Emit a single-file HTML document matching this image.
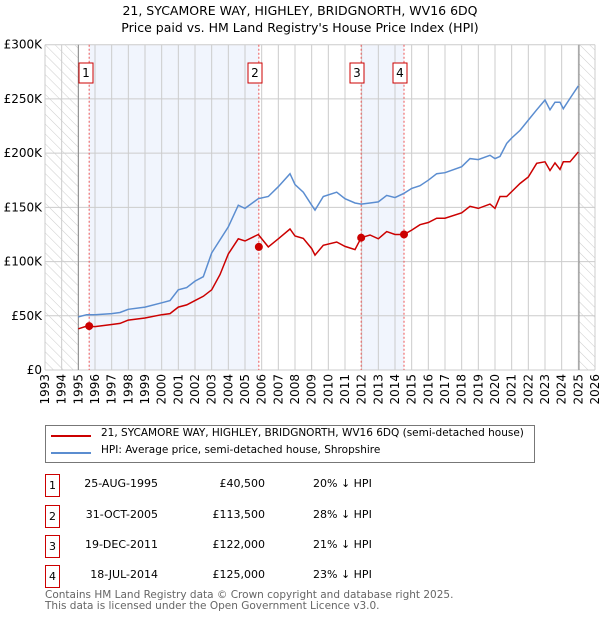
<!DOCTYPE html>
<html><head><meta charset="utf-8"><style>
body{margin:0;background:#fff;font-family:"DejaVu Sans","Liberation Sans",sans-serif;}
#wrap{position:relative;width:600px;height:620px;overflow:hidden;}
.t{position:absolute;font-size:11px;color:#000;white-space:nowrap;}
.nb{position:absolute;width:13px;height:21px;border:1px solid #c00;font-size:11px;text-align:center;line-height:21px;background:#fff;}
</style></head><body><div id="wrap">
<div class="t" style="left:0;width:600px;text-align:center;top:3px;font-size:12.5px">21, SYCAMORE WAY, HIGHLEY, BRIDGNORTH, WV16 6DQ</div>
<div class="t" style="left:0;width:600px;text-align:center;top:20px;font-size:12.5px">Price paid vs. HM Land Registry's House Price Index (HPI)</div>
<svg id="chart" width="600" height="420" style="position:absolute;left:0;top:0"></svg>
<div style="position:absolute;left:45px;top:425px;width:488px;height:36px;border:1px solid #777">
 <div style="position:absolute;left:5px;top:9px;width:40px;height:2px;background:#c00"></div>
 <div class="t" style="left:55px;top:1px;font-size:10.5px">21, SYCAMORE WAY, HIGHLEY, BRIDGNORTH, WV16 6DQ (semi-detached house)</div>
 <div style="position:absolute;left:5px;top:26px;width:40px;height:2px;background:#5b8dd0"></div>
 <div class="t" style="left:55px;top:18px;font-size:10.5px">HPI: Average price, semi-detached house, Shropshire</div>
</div>
<div id="rows"></div>
<div class="t" style="left:45px;top:590px;color:#666;font-size:10.5px;line-height:11px">Contains HM Land Registry data © Crown copyright and database right 2025.<br>This data is licensed under the Open Government Licence v3.0.</div>
</div>
<script>
const years=[1995,1995.5,1996,1997,1997.5,1998,1999,2000,2000.5,2001,2001.5,2002,2002.5,2003,2003.5,2004,2004.6,2005,2005.8,2006.4,2007,2007.7,2008,2008.5,2009,2009.2,2009.7,2010.5,2011,2011.6,2011.97,2012.5,2013,2013.5,2014,2014.54,2015,2015.5,2016,2016.5,2017,2018,2018.5,2019,2019.7,2020,2020.3,2020.7,2021,2021.5,2022,2022.5,2023,2023.3,2023.6,2023.9,2024.1,2024.5,2025];
const hpi=[49,51,51,52,53,56,58,62,64,74,76,82,86,108,120,132,152,149,158,160,169,181,171,164,152,147.5,160,164,158,154,153,154,155,161,159,163,167.5,170,175,181,182,187.5,195,194,198,195,197,209,214,221,230.5,240,249,240,247,247,241,250.5,262];
const paid=[38,40.5,40,42,43,46,48,51,52,58,60,64,68,74,88,107,121,119,125,113.5,121,130,123.6,121.4,112,106,115,118,114,111,122,124.5,121,127.6,125,125,129,134,136,140,140,145,151,149,153,149,160,160,164.5,172,178,190.6,192,184,191,185,192,192,201];
const saleYears=[1995.65,2005.83,2011.97,2014.54];
const salePrices=[40.5,113.5,122,125];
const saleLabels=["1","2","3","4"];
const saleDates=["25-AUG-1995","31-OCT-2005","19-DEC-2011","18-JUL-2014"];
const salePriceText=["£40,500","£113,500","£122,000","£125,000"];
const saleDiff=["20% ↓ HPI","28% ↓ HPI","21% ↓ HPI","23% ↓ HPI"];
const yTicks=[0,50,100,150,200,250,300];
const yTickLabels=["£0","£50K","£100K","£150K","£200K","£250K","£300K"];

const X0=45,X1=595,Y0=370,Y1=44.7;
const x=yr=>X0+(yr-1993)*(X1-X0)/33;
const y=v=>Y0-v*(Y0-Y1)/300;
const ns="http://www.w3.org/2000/svg";
const svg=document.getElementById('chart');
const FF='DejaVu Sans, Liberation Sans, sans-serif';
function mk(tag,attrs,name){const e=document.createElementNS(ns,tag);for(const k in attrs)e.setAttribute(k,attrs[k]);


svg.appendChild(e);return e;}
const defs=document.createElementNS(ns,'defs');
defs.innerHTML='<pattern id="hatch" width="7" height="7" patternUnits="userSpaceOnUse" patternTransform="rotate(-45)"><line x1="0" y1="0" x2="0" y2="7" stroke="#ccc" stroke-width="1"/></pattern>';
svg.appendChild(defs);
mk('rect',{x:x(1993),y:Y1,width:x(1995)-x(1993),height:Y0-Y1,fill:'url(#hatch)'},'hatch-pre-data');
mk('rect',{x:x(2025.04),y:Y1,width:X1-x(2025.04),height:Y0-Y1,fill:'url(#hatch)'},'hatch-future');
mk('rect',{x:x(saleYears[0]),y:Y1,width:x(saleYears[1])-x(saleYears[0]),height:Y0-Y1,fill:'#eef3fd',opacity:0.8},'shade-1-2');
mk('rect',{x:x(saleYears[2]),y:Y1,width:x(saleYears[3])-x(saleYears[2]),height:Y0-Y1,fill:'#eef3fd',opacity:0.8},'shade-3-4');
for(let yr=1993;yr<=2026;yr++){
 mk('line',{x1:x(yr),x2:x(yr),y1:Y1,y2:Y0,stroke:'#ccc','stroke-width':1},'x-grid-'+yr);
 const t=mk('text',{x:0,y:0,transform:`translate(${x(yr)+4},${Y0+4}) rotate(-90)`,'text-anchor':'end','font-size':12,'font-family':FF},'x-tick-'+yr);t.textContent=yr;
}
yTicks.forEach((v,i)=>{
 mk('line',{x1:X0,x2:X1,y1:y(v),y2:y(v),stroke:'#ccc','stroke-width':1},'y-grid-'+v);
 const t=mk('text',{x:X0-3,y:y(v)+4,'text-anchor':'end','font-size':12,'font-family':FF},'y-tick-'+v);t.textContent=yTickLabels[i];
});
mk('line',{x1:x(1995),x2:x(1995),y1:Y1,y2:Y0,stroke:'#888'},'data-start-line');
mk('line',{x1:x(2025.04),x2:x(2025.04),y1:Y1,y2:Y0,stroke:'#888'},'data-end-line');
saleYears.forEach((s,i)=>mk('line',{x1:x(s),x2:x(s),y1:Y1,y2:Y0,stroke:'#e55','stroke-dasharray':'2,2'},'sale-line-'+(i+1)));
const pts=a=>a.map((v,i)=>x(years[i]).toFixed(1)+','+y(v).toFixed(1)).join(' ');
mk('polyline',{points:pts(hpi),fill:'none',stroke:'#5b8dd0','stroke-width':1.5},'hpi-line');
mk('polyline',{points:pts(paid),fill:'none',stroke:'#c00','stroke-width':1.5},'price-paid-line');
const bx=[79,248,350,393];
saleYears.forEach((s,i)=>{
 mk('circle',{cx:x(s),cy:y(salePrices[i]),r:4,fill:'#c00'},'sale-point-'+(i+1));
 mk('rect',{x:bx[i],y:63,width:14,height:20,fill:'#fff',stroke:'#c00'},'sale-marker-box-'+(i+1));
 const t=mk('text',{x:bx[i]+7,y:77,'text-anchor':'middle','font-size':12,'font-family':FF},'sale-marker-label-'+(i+1));t.textContent=saleLabels[i];
});
const rows=document.getElementById('rows');
const ry=[474,505,535,565];
saleDates.forEach((d,i)=>{
 const r=document.createElement('div');
 
 
 r.innerHTML=`<div class="nb" style="left:45px;top:${ry[i]}px">${saleLabels[i]}</div>
 <div class="t" style="left:60px;width:98px;text-align:right;top:${ry[i]+3}px">${d}</div>
 <div class="t" style="left:160px;width:105px;text-align:right;top:${ry[i]+3}px">${salePriceText[i]}</div>
 <div class="t" style="left:313px;top:${ry[i]+3}px">${saleDiff[i]}</div>`;
 rows.appendChild(r);
});
</script></body></html>
